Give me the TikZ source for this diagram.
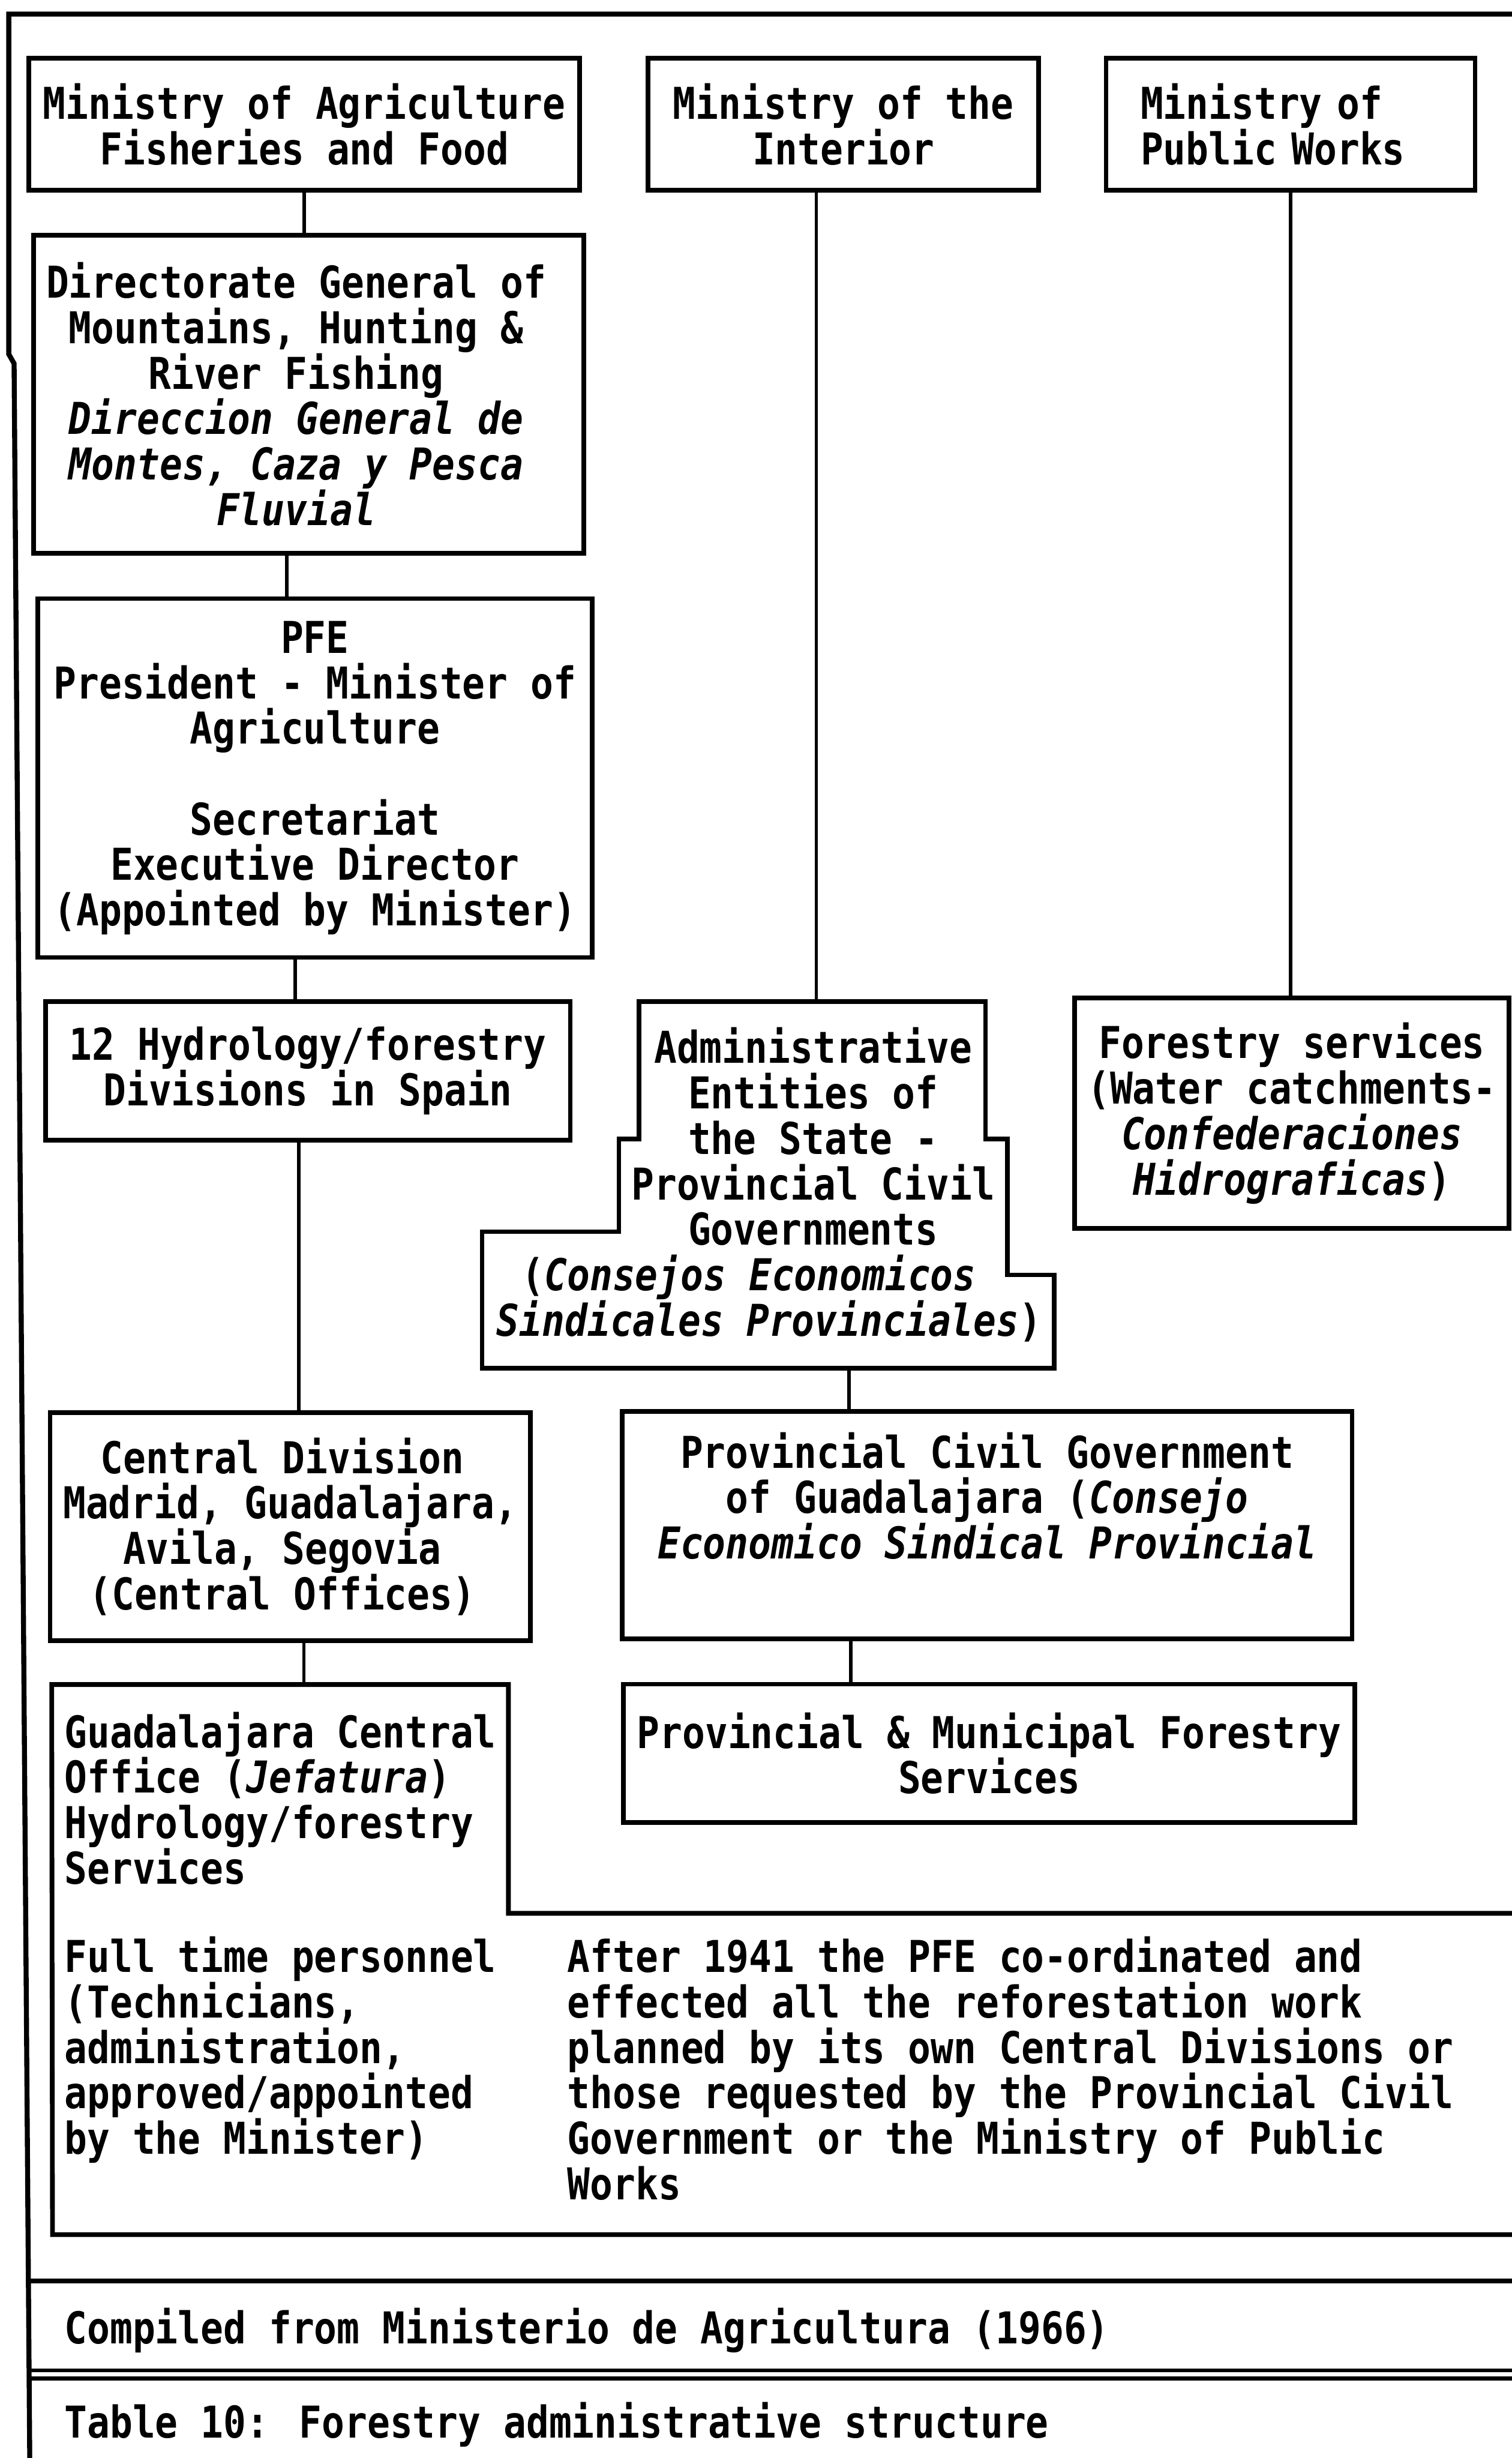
\documentclass[tikz,border=0pt]{standalone}
\usepackage{fontspec}
\setmainfont{DejaVu Sans Mono}[FakeStretch=0.86,UprightFont=* Bold,ItalicFont=* Bold Oblique]
\usepackage{tikz}
\usetikzlibrary{calc}
\tikzset{unit/.style 2 args={draw,line width=3pt,inner sep=0pt,minimum width=#1pt,minimum height=#2pt,align=center},
         link/.style={line width=2.2pt},
         rule/.style={line width=3.2pt},
         txt/.style={inner sep=0pt,anchor=north west,align=left}
         }

\begin{document}
\begin{tikzpicture}[x=1pt,y=-1pt,font=\fontsize{28}{29}\selectfont]
        \useasboundingbox (0,0) rectangle (965,1568.6);

        \draw[rule] (968,9) -- (5.6,9) -- (5.6,226) -- (9,232) -- (19,1572);
        \draw[rule] (17,1455.5) -- (968,1455.5);
        \draw[line width=2.6pt] (18,1512.7) -- (968,1512.7);
        \draw[line width=2.6pt] (18,1517.9) -- (968,1517.9);

        \node[unit={351.5}{84}] (MA) at (194.25,79.3) {Ministry of Agriculture\\Fisheries and Food};
        \node[unit={249.5}{84}] (MI) at (538.25,79.3) {Ministry of the\\Interior};
        \node[unit={235.5}{84},text width=191.5pt,inner xsep=22pt,align=left] (MP) at (823.75,79.3) {Ministry of\\Public Works};

        \node[unit={351}{203}] (DG) at (197,251.5) {Directorate General of\hbox to 16pt{}\\Mountains, Hunting \&\hbox to 16pt{}\\River Fishing\hbox to 16pt{}\\\textit{Direccion General de}\hbox to 16pt{}\\\textit{Montes, Caza y Pesca}\hbox to 16pt{}\\\textit{Fluvial}\hbox to 16pt{}};
        \node[unit={354}{229}] (PFE) at (201,496.5) {PFE\\President - Minister of\\Agriculture\\[29pt]Secretariat\\Executive Director\\(Appointed by Minister)};
        \node[unit={335}{88.7}] (HD) at (196.5,683.4) {12 Hydrology/forestry\\Divisions in Spain};

        \draw[line width=3pt] (407.7,639) -- (629,639) -- (629,727) -- (643,727) -- (643,813.6) -- (673,813.6) -- (673,873) -- (307.7,873) -- (307.7,786) -- (395,786) -- (395,727) -- (407.7,727) -- cycle;
        \coordinate (AEt) at (521,639);
        \coordinate (AEb) at (542,873);
        \node[inner sep=0pt,align=center] (AE) at (519,756) {Administrative\\Entities of\\the State -\\Provincial Civil\\Governments\\(\textit{Consejos Economicos}\hbox to 82pt{}\\\textit{Sindicales Provinciales})\hbox to 56pt{}};

        \node[unit={277}{147}] (FS) at (824.5,710.5) {Forestry services\\(Water catchments-\\\textit{Confederaciones}\\\textit{Hidrograficas})};

        \node[unit={306.5}{145.3}] (CD) at (185.25,974.2) {Central Division\hbox to 10pt{}\\Madrid, Guadalajara,\\Avila, Segovia\hbox to 10pt{}\\(Central Offices)\hbox to 10pt{}};
        \node[unit={466}{145.3}] (PG) at (630,973.2) {Provincial Civil Government\\of Guadalajara (\textit{Consejo}\\\textit{Economico Sindical Provincial}\\\strut};
        \node[unit={466.6}{88.3}] (PM) at (631.3,1118.9) {Provincial \& Municipal Forestry\\Services};

        \coordinate (GC) at (33,1075);
        \draw[line width=3pt] (968,1221) -- (324.5,1221) -- (324.5,1075) -- (GC) -- (33.5,1426) -- (968,1426);
        \node[txt] (GT) at (41,1092.2) {Guadalajara Central\\Office (\textit{Jefatura})\\Hydrology/forestry\\Services};
        \node[txt] (FT) at (41,1235.7) {Full time personnel\\(Technicians,\\administration,\\approved/appointed\\by the Minister)};
        \node[txt] (AT) at (362,1235.7) {After 1941 the PFE co-ordinated and\\effected all the reforestation work\\planned by its own Central Divisions or\\those requested by the Provincial Civil\\Government or the Ministry of Public\\Works};

        \node[txt] (SRC) at (41,1472.7) {Compiled from Ministerio de Agricultura (1966)};
        \node[txt] (CAP) at (41,1532.7) {Table 10: Forestry administrative structure};

        \draw[link] (MA.south) -- (MA.south |- DG.north);
        \draw[link] ($(DG.south)+(-14,0)$) -- ($(DG.south |- PFE.north)+(-14,0)$);
        \draw[link] ($(PFE.south)+(-12.7,0)$) -- ($(PFE.south |- HD.north)+(-12.7,0)$);
        \draw[link] ($(HD.south)+(-5.7,0)$) -- ($(HD.south |- CD.north)+(-5.7,0)$);
        \draw[link] ($(CD.south)+(8.75,0)$) -- ($(CD.south |- GC)+(8.75,0)$);
        \draw[link] (MI.south -| AEt) -- (AEt);
        \draw[link] (MP.south) -- (MP.south |- FS.north);
        \draw[link] (AEb) -- (AEb |- PG.north);
        \draw[link] ($(PG.south)+(-87,0)$) -- ($(PG.south |- PM.north)+(-87,0)$);
\end{tikzpicture}
\end{document}
